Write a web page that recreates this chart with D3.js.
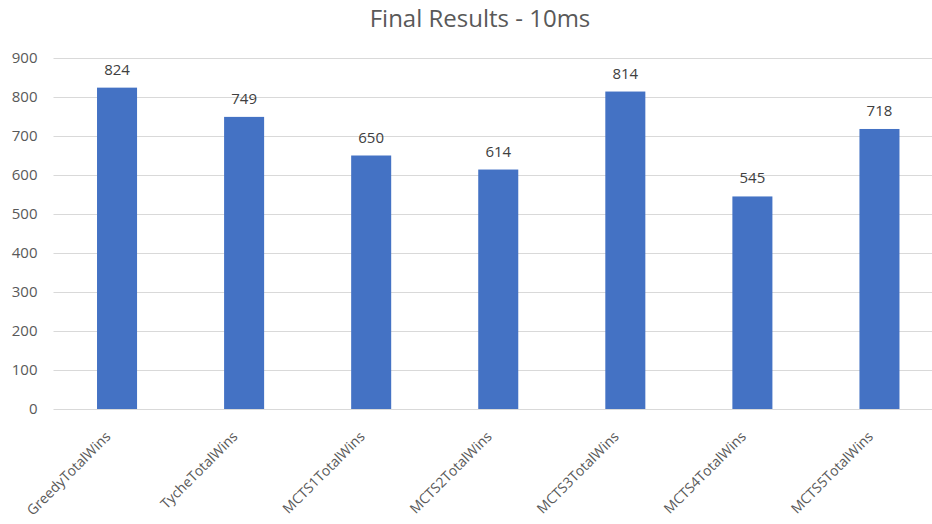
<!DOCTYPE html>
<html>
<head>
<meta charset="utf-8">
<script src="https://cdn.jsdelivr.net/npm/d3@7"></script>
<style>
  body { margin: 0; background: #fff; }
  text { font-family: "Open Sans", "Noto Sans", sans-serif; }
</style>
</head>
<body>
<div id="chart"></div>
<script>
// DATA
const categories = ['GreedyTotalWins', 'TycheTotalWins', 'MCTS1TotalWins', 'MCTS2TotalWins',
    'MCTS3TotalWins', 'MCTS4TotalWins', 'MCTS5TotalWins'];
const wins = [824, 749, 650, 614, 814, 545, 718];
const yTicks = [0, 100, 200, 300, 400, 500, 600, 700, 800, 900];

// SETTINGS
const dimensions = { width: 932, height: 524 };
const plot = { left: 53.5, right: 943, top: 58, bottom: 409 };

const svg = d3.select('#chart')
    .append('svg')
    .attr('width', dimensions.width)
    .attr('height', dimensions.height);

const x = d3.scaleBand()
    .domain(categories)
    .range([plot.left, plot.right])
    .paddingInner(0.685)
    .paddingOuter(0.685 / 2);

const y = d3.scaleLinear()
    .domain([0, 900])
    .range([plot.bottom, plot.top]);

// title
svg.append('text')
    .attr('x', 480)
    .attr('y', 27)
    .attr('text-anchor', 'middle')
    .attr('font-size', '24px')
    .attr('fill', '#595959')
    .text('Final Results - 10ms');

// gridlines + y labels
const yAxis = svg.append('g')
    .attr('transform', `translate(${plot.left},0)`)
    .call(d3.axisLeft(y).tickValues(yTicks).tickSize(-(plot.right - plot.left)).tickPadding(16));
yAxis.select('.domain').remove();
yAxis.selectAll('.tick line').attr('stroke', '#d9d9d9').attr('stroke-width', 1);
yAxis.selectAll('.tick text')
    .attr('font-size', '15px')
    .attr('fill', '#595959')
    .attr('font-family', '"Open Sans", "Noto Sans", sans-serif');

// bars
svg.append('g')
    .selectAll('rect')
    .data(wins)
    .enter()
    .append('rect')
    .attr('x', (d, i) => x(categories[i]))
    .attr('width', x.bandwidth())
    .attr('y', d => y(d))
    .attr('height', d => y(0) - y(d))
    .attr('fill', '#4472c4');

// value labels
svg.append('g')
    .selectAll('text')
    .data(wins)
    .enter()
    .append('text')
    .attr('x', (d, i) => x(categories[i]) + x.bandwidth() / 2)
    .attr('y', d => y(d) - 13)
    .attr('text-anchor', 'middle')
    .attr('font-size', '15px')
    .attr('fill', '#404040')
    .text(d => d);

// category labels, rotated
svg.append('g')
    .selectAll('text')
    .data(categories)
    .enter()
    .append('text')
    .attr('transform', d => `translate(${x(d) + x.bandwidth() / 2 - 9},${plot.bottom + 25}) rotate(-45)`)
    .attr('text-anchor', 'end')
    .attr('dy', '0.35em')
    .attr('font-size', '14px')
    .attr('fill', '#595959')
    .text(d => d);
</script>
</body>
</html>
